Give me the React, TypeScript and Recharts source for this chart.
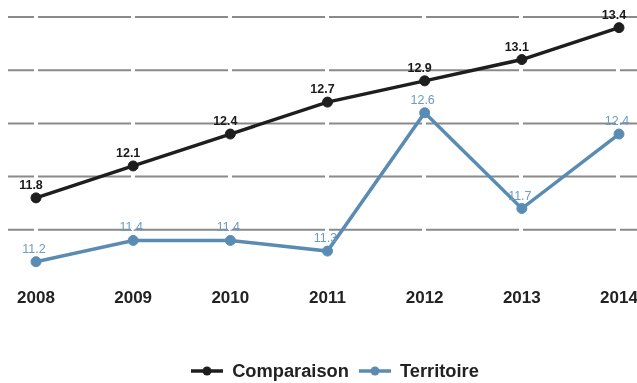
import { LineChart, Line, XAxis, YAxis, Legend, LabelList, ReferenceLine } from 'recharts';

const years = ['2008', '2009', '2010', '2011', '2012', '2013', '2014'];
const comparaison = [11.8, 12.1, 12.4, 12.7, 12.9, 13.1, 13.4];
const territoire = [11.2, 11.4, 11.4, 11.3, 12.6, 11.7, 12.4];
const yTicks = [11.5, 12, 12.5, 13, 13.5];

const data = years.map((year, i) => ({
  year,
  comparaison: comparaison[i],
  territoire: territoire[i],
}));

const FONT = '"Liberation Sans", Arial, sans-serif';
const DARK = '#1e1e1e';
const BLUE = '#5a8cb3';

const legendItems = [
  { name: 'Comparaison', color: DARK },
  { name: 'Territoire', color: BLUE },
];

function LegendContent() {
  return (
    <div style={{ display: 'flex', justifyContent: 'center', alignItems: 'center', gap: 10, fontFamily: FONT, paddingLeft: 25 }}>
      {legendItems.map((item) => (
        <div key={item.name} style={{ display: 'flex', alignItems: 'center' }}>
          <svg width={32} height={12} style={{ marginRight: 9 }}>
            <line x1={0} y1={6} x2={32} y2={6} stroke={item.color} strokeWidth={3.5} />
            <circle cx={16} cy={6} r={4.5} fill={item.color} />
          </svg>
          <span style={{ fontSize: 18.3, fontWeight: 700, color: '#222' }}>{item.name}</span>
        </div>
      ))}
    </div>
  );
}

export default function App() {
  return (
    <div style={{ position: 'fixed', top: 0, left: 0, width: 637, height: 383, overflow: 'hidden' }}>
      <LineChart
        width={637}
        height={383}
        data={data}
        margin={{ top: 17, right: 0, bottom: 30, left: 8 }}
      >
        <XAxis
          dataKey="year"
          scale="point"
          padding={{ left: 28, right: 18 }}
          axisLine={false}
          tickLine={false}
          height={30}
          tick={{ fontSize: 17, fontWeight: 700, fill: '#222', fontFamily: FONT }}
        />
        <YAxis hide domain={[11, 13.5]} ticks={yTicks} />
        {yTicks.map((t) => (
          <ReferenceLine
            key={t}
            y={t}
            stroke="#8a8a8a"
            strokeWidth={2}
            strokeDasharray="26 4 93 4 93 4 93 4 93 4 93 4 93 4 100"
          />
        ))}
        <Legend
          verticalAlign="bottom"
          height={40}
          content={<LegendContent />}
          wrapperStyle={{ top: 360 }}
        />
        <Line
          type="linear"
          dataKey="comparaison"
          name="Comparaison"
          stroke={DARK}
          strokeWidth={3.5}
          dot={{ r: 5, fill: DARK, stroke: DARK, strokeWidth: 1 }}
          isAnimationActive={false}
        >
          <LabelList
            dataKey="comparaison"
            position="top"
            offset={9}
            formatter={(v: any) => Number(v).toFixed(1)}
            style={{ fontSize: 12.5, fontWeight: 700, fill: '#1a1a1a', fontFamily: FONT }}
            dx={-5}
          />
        </Line>
        <Line
          type="linear"
          dataKey="territoire"
          name="Territoire"
          stroke={BLUE}
          strokeWidth={3.5}
          dot={{ r: 5, fill: BLUE, stroke: BLUE, strokeWidth: 1 }}
          isAnimationActive={false}
        >
          <LabelList
            dataKey="territoire"
            position="top"
            offset={9}
            formatter={(v: any) => Number(v).toFixed(1)}
            style={{ fontSize: 12.5, fill: '#6c9cc0', fontFamily: FONT }}
            dx={-2}
          />
        </Line>
      </LineChart>
    </div>
  );
}
